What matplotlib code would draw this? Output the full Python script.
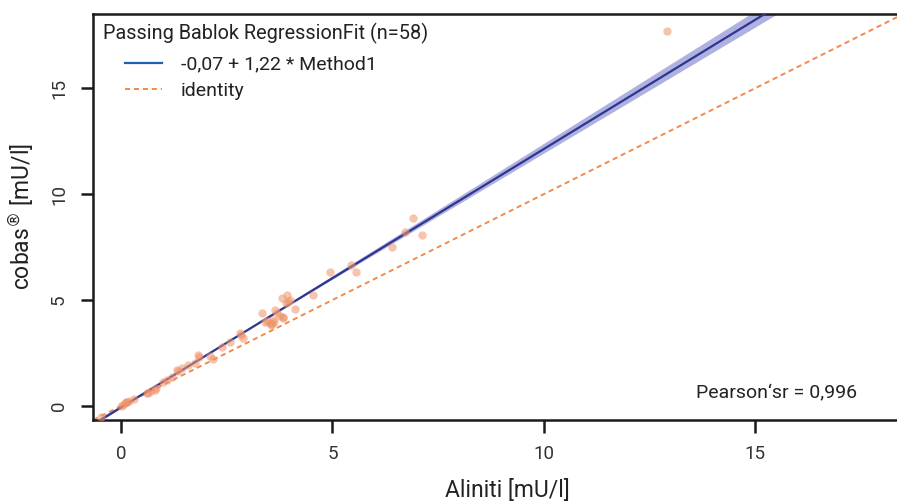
import matplotlib
matplotlib.use("Agg")
import matplotlib.pyplot as plt
from matplotlib.lines import Line2D
import numpy as np

plt.rcParams['font.family'] = ['Roboto', 'DejaVu Sans']

alinity = [-0.46, 0.05, 0.09, 0.13, 0.20, 0.61, 0.65, 0.80, 0.84, 1.08,
           1.20, 1.32, 1.35, 1.58, 1.75, 1.83, 1.85, 2.18, 2.40, 2.58,
           2.81, 2.85, 2.89, 3.33, 3.40, 3.52, 3.55, 3.60, 3.62, 3.64,
           3.70, 3.80, 3.84, 3.84, 3.92, 3.96, 4.00, 4.11, 4.55, 4.94,
           5.45, 5.57, 6.40, 6.71, 6.91, 7.11, 12.9,
           0.00, 0.15, 0.30, 0.70, 1.00, 1.45, 2.10, 3.45, 3.58, 3.75, 3.90]
cobas = [-0.50, 0.05, 0.13, 0.20, 0.25, 0.60, 0.62, 0.75, 0.83, 1.23,
         1.35, 1.70, 1.65, 1.93, 2.05, 2.40, 2.30, 2.22, 2.80, 3.03,
         3.43, 3.35, 3.19, 4.37, 3.95, 3.90, 3.82, 4.06, 3.95, 4.53,
         4.40, 5.08, 4.20, 4.14, 5.24, 4.92, 5.00, 4.60, 5.24, 6.33,
         6.65, 6.33, 7.51, 8.22, 8.85, 8.07, 17.7,
         0.02, 0.18, 0.35, 0.72, 1.15, 1.80, 2.35, 4.00, 3.85, 4.25, 4.85]

# Passing-Bablok fit and confidence limits
intercept, slope = -0.07, 1.22
ci_low = (0.0, 1.19)
ci_high = (-0.14, 1.25)
pearson = "0,996"

xlim = (-0.66, 18.35)
ylim = (-0.66, 18.5)

fig = plt.figure(figsize=(8.97, 5.03), dpi=100)
ax = fig.add_axes([93 / 897, 83 / 503, 804 / 897, 406 / 503])

xs = np.linspace(xlim[0], xlim[1], 200)
lo = ci_low[0] + ci_low[1] * xs
hi = ci_high[0] + ci_high[1] * xs
ax.fill_between(xs, np.minimum(lo, hi), np.maximum(lo, hi),
                color='#9498d6', alpha=0.75, lw=0, zorder=1)
ax.plot(xs, intercept + slope * xs, color='#2f3590', lw=1.6, zorder=3)
ax.plot(xs, xs, color='#f08a4b', lw=1.4, ls=(0, (2.6, 2)), zorder=2)
ax.plot(alinity, cobas, 'o', color='#f0936a', ms=6, alpha=0.55,
        mec='none', zorder=4)

ax.set_xlim(*xlim)
ax.set_ylim(*ylim)
ax.set_xticks([0, 5, 10, 15])
ax.set_yticks([0, 5, 10, 15])
ax.spines['right'].set_visible(False)
for s in ['left', 'bottom', 'top']:
    ax.spines[s].set_linewidth(1.8)
    ax.spines[s].set_color('#1a1a1a')
ax.tick_params(direction='out', length=9, width=1.8, color='#1a1a1a',
               labelsize=13.5, labelcolor='#333333', pad=9)
for lab in ax.get_yticklabels():
    lab.set_rotation(90)
    lab.set_va('center')

ax.set_xlabel('Aliniti [mU/l]', fontsize=16.5, color='#222222', labelpad=12)
ax.xaxis.set_label_coords(0.516, -0.145)
ax.set_ylabel(r'cobas$^{\circledR}$ [mU/l]', fontsize=16.5, color='#222222',
              labelpad=10)

ax.text(0.0124, 0.953, 'Passing Bablok RegressionFit (n=58)',
        transform=ax.transAxes, fontsize=14.3, color='#222222',
        va='center', ha='left')
handles = [Line2D([], [], color='#1f5fb0', lw=1.6),
           Line2D([], [], color='#f08a4b', lw=1.4, ls=(0, (2.6, 2)))]
labels = ['-0,07 + 1,22 * Method1', 'identity']
ax.legend(handles, labels, loc='upper left', bbox_to_anchor=(0.04, 0.898),
          frameon=False, fontsize=14, handlelength=1.9, handletextpad=0.95,
          labelspacing=0.45, borderpad=0, borderaxespad=0,
          labelcolor='#222222')

ax.text(0.95, 0.065, 'Pearson\u2018sr = ' + pearson,
        transform=ax.transAxes, fontsize=14, color='#222222',
        ha='right', va='center')

fig.savefig('out.png', dpi=100)
